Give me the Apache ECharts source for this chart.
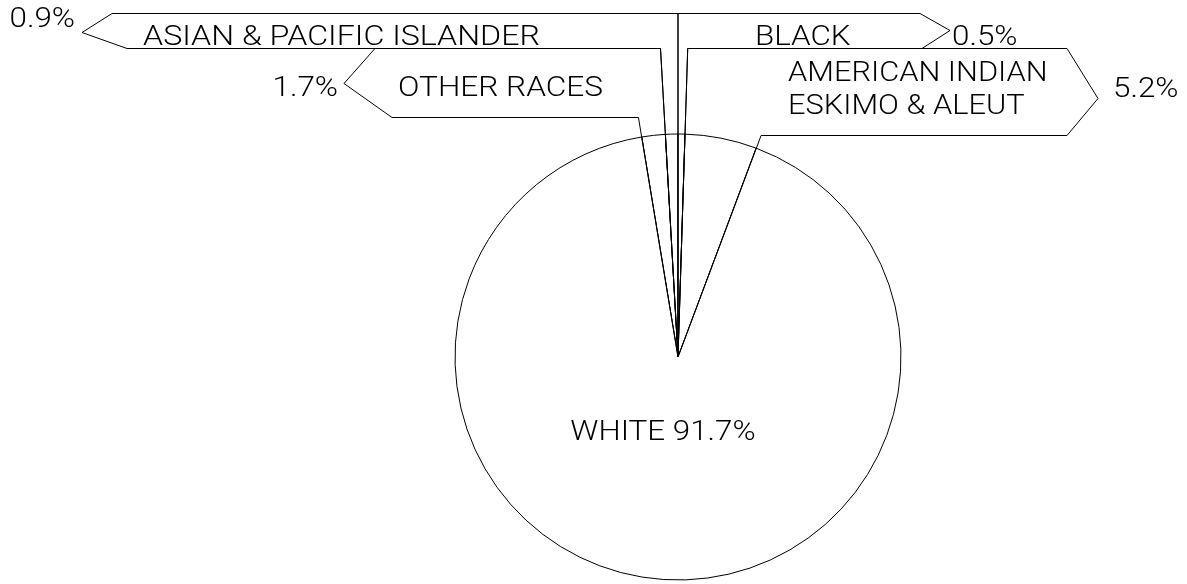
<!DOCTYPE html>
<html><head><meta charset="utf-8">
<script src="https://cdn.jsdelivr.net/npm/echarts@6/dist/echarts.min.js"></script>
<style>html,body{margin:0;padding:0;background:#fff}#c{width:1187px;height:584px}</style>
</head><body><div id="c"></div>
<script>
// ---- data ----
const categories = ['OTHER RACES', 'ASIAN & PACIFIC ISLANDER', 'BLACK', 'AMERICAN INDIAN\nESKIMO & ALEUT', 'WHITE'];
const shares = [1.7, 0.9, 0.5, 5.2, 91.7];

// ---- layout / style ----
const CX = 678, CY = 357, R = 223;
const FONT = { fontFamily: 'Roboto', fontWeight: 300, fontSize: 28 };
const TEXT_STRETCH = 1.12;
// callout boxes (label decoration), in category order; the last (large) slice has its label inside the pie
const callouts = [
  { startY: 117, endY: 48, path: [[392,117],[344,83],[375,48]],
    name: { x: 398, y: 89, align: 'left', stretch: 1.13 }, pct: { x: 338, y: 89, align: 'right' } },
  { startY: 48, endY: 13, path: [[127,48],[82,32],[112,13]],
    name: { x: 143, y: 38, align: 'left', stretch: 1.15 }, pct: { x: 75, y: 20, align: 'right' } },
  { startY: 13, endY: 48, path: [[920,13],[950,30],[922,48]],
    name: { x: 755, y: 38, align: 'left' }, pct: { x: 952, y: 38, align: 'left' } },
  { startY: 48, endY: 135, path: [[1067,48],[1098,98],[1067,135]],
    name: { x: 788, y: 90, align: 'left', stretch: 1.1 }, pct: { x: 1113, y: 90, align: 'left' } },
  { inside: { x: 663, y: 433, align: 'center' } }
];

const total = shares.reduce((a, b) => a + b, 0);
// boundary between 2nd and 3rd slice sits at 12 o'clock
const offsetDeg = (shares[0] + shares[1]) / total * 360;
const startAngle = 90 + offsetDeg;
// slice boundary angles, clockwise from 12 o'clock
const bounds = [];
{ let cum = 0; bounds.push(-offsetDeg); for (const v of shares) { cum += v; bounds.push(cum / total * 360 - offsetDeg); } }
const xAtY = (deg, y) => CX + (CY - y) * Math.tan(deg * Math.PI / 180);
const fmtPct = v => v.toFixed(1) + '%';

const chart = echarts.init(document.getElementById('c'), null, { renderer: 'canvas' });
chart.setOption({
  backgroundColor: '#fff',
  animation: false,
  series: [
    {
      type: 'pie',
      z: 1,
      center: [CX, CY],
      radius: R,
      startAngle: startAngle,
      clockwise: true,
      silent: true,
      emphasis: { disabled: true },
      itemStyle: { color: '#fff', borderColor: '#000', borderWidth: 1 },
      label: { show: false },
      labelLine: { show: false },
      data: categories.map((c, i) => ({ name: c, value: shares[i] }))
    },
    {
      type: 'custom',
      z: 5,
      coordinateSystem: 'none',
      silent: true,
      data: categories.map((c, i) => i),
      renderItem: (params, api) => {
        const i = params.dataIndex;
        const c = callouts[i];
        const txt = (t, o) => ({
          type: 'text', x: o.x, y: o.y, scaleX: o.stretch || TEXT_STRETCH, originX: 0, originY: 0, z2: 10,
          style: { text: t, fill: '#000', align: o.align, verticalAlign: 'middle',
            fontFamily: FONT.fontFamily, fontWeight: FONT.fontWeight, fontSize: FONT.fontSize, lineHeight: 33 }
        });
        if (c.inside) {
          return { type: 'group', children: [txt(categories[i] + ' ' + fmtPct(shares[i]), c.inside)] };
        }
        const a0 = bounds[i], a1 = bounds[i + 1];
        const px = v => Math.round(v) + 0.5;
        const pts = [[CX, CY], [xAtY(a0, c.startY), px(c.startY)]]
          .concat(c.path.map(p => [p[0], px(p[1])]))
          .concat([[xAtY(a1, c.endY), px(c.endY)], [CX, CY]]);
        return {
          type: 'group',
          children: [
            { type: 'polygon', shape: { points: pts }, style: { fill: 'none', stroke: '#000', lineWidth: 1 } },
            txt(categories[i], c.name),
            txt(fmtPct(shares[i]), c.pct)
          ]
        };
      }
    }
  ]
});
</script>
</body></html>
